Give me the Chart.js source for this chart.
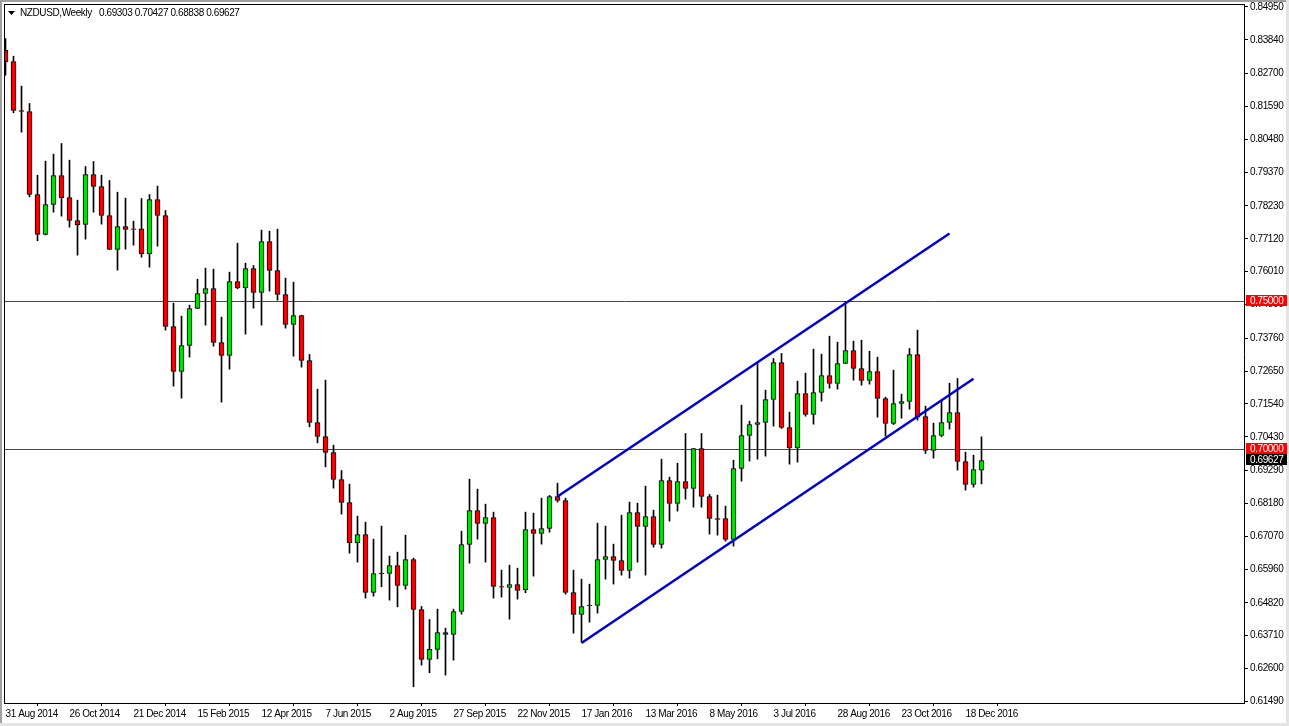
<!DOCTYPE html>
<html>
<head>
<meta charset="utf-8">
<title>NZDUSD Weekly</title>
<script src="https://cdn.jsdelivr.net/npm/chart.js@4"></script>
<style>
  html, body { margin: 0; padding: 0; background: #fff; }
  canvas { display: block; }
</style>
</head>
<body>
<canvas id="grafico" width="1289" height="726"></canvas>
<script>
// velas semanales, de 31 Aug 2014 a 18 Dec 2016
const opens = [
  .83491,.83108,.81453,.81419,.78615,.77264,.78278,.79257,.78514,.77737,
  .77602,.79291,.78886,.77906,.76758,.77534,.77456,.77456,.76611,.78447,
  .77906,.74156,.72636,.73515,.74764,.75271,.75440,.73616,.73177,.75677,
  .75463,.76116,.75305,.77028,.76048,.75237,.74224,.74528,.73007,.70913,
  .70440,.69899,.68987,.68210,.66848,.67129,.65170,.65823,.65812,.66082,
  .65407,.66285,.64596,.62907,.63245,.63819,.63751,.64528,.66792,.67940,
  .67501,.67704,.65373,.65339,.65440,.65260,.67298,.67163,.67332,.68413,
  .68278,.65170,.64427,.64742,.64731,.66285,.66386,.66251,.65913,.67873,
  .67400,.67737,.66792,.68954,.68177,.68920,.68683,.70034,.68413,.67670,
  .67670,.66961,.69359,.70474,.70845,.70913,.71690,.72940,.70744,.70057,
  .71892,.71183,.71926,.72500,.72230,.72906,.73345,.72737,.72332,.72636,
  .71723,.70879,.71555,.71622,.73210,.71115,.69967,.70474,.70913,.71251,
  .69595,.68818,.69303
];
const highs = [
  .83885,.83288,.82275,.81689,.79268,.79741,.79978,.80338,.79775,.78424,
  .79561,.79730,.79268,.79088,.78694,.78492,.77715,.78480,.78615,.78897,
  .78075,.74945,.74506,.74877,.75755,.76127,.76093,.74472,.75992,.76971,
  .76296,.76217,.77411,.77377,.77444,.75789,.75654,.74539,.73210,.72039,
  .72343,.70147,.69291,.68830,.67749,.67546,.66972,.67411,.66398,.66533,
  .67107,.66330,.64697,.64258,.64607,.63965,.64607,.67242,.68999,.68661,
  .68154,.67884,.65925,.66093,.65992,.67884,.67850,.68357,.68447,.68863,
  .68357,.65925,.65621,.65452,.67512,.67411,.66803,.67782,.68222,.68188,
  .68762,.67951,.69674,.69066,.69539,.70541,.70034,.70541,.68481,.68458,
  .68087,.69640,.71498,.70958,.72906,.72005,.73075,.73244,.71262,.72309,
  .72579,.73390,.73221,.73829,.73626,.75000,.73660,.73694,.73322,.73120,
  .71769,.72681,.71870,.73412,.74032,.71465,.70890,.71667,.72241,.72399,
  .69911,.69809,.70427
];
const lows = [
  .82646,.81374,.80721,.78537,.77050,.77250,.78019,.77884,.77512,.76566,
  .77107,.78019,.77613,.76758,.76059,.76769,.76904,.76499,.76161,.76870,
  .74033,.72141,.71736,.73121,.74764,.74201,.73492,.71600,.72715,.75429,
  .73897,.74776,.74201,.75350,.75046,.74100,.73154,.72783,.70766,.70226,
  .69415,.68695,.67816,.66499,.66195,.64979,.65046,.65362,.64911,.64686,
  .65283,.61984,.62715,.62457,.62929,.62378,.62884,.64438,.66161,.66972,
  .66195,.64979,.65013,.64269,.64945,.65159,.65722,.66803,.67208,.68222,
  .65114,.63796,.63492,.64168,.64472,.65621,.65452,.65756,.65654,.66195,
  .65756,.66702,.66668,.67580,.67918,.68323,.68053,.68053,.67141,.67107,
  .66904,.66735,.68931,.69607,.69674,.69776,.70789,.70710,.69505,.69573,
  .71127,.70856,.71633,.72073,.72039,.72906,.72343,.72174,.72208,.71093,
  .70451,.70845,.71059,.71363,.70992,.69866,.69708,.70429,.70688,.69303,
  .68627,.68728,.68838
];
const closes = [
  .83097,.81453,.81419,.78615,.77264,.78278,.79257,.78503,.77737,.77591,
  .79291,.78886,.77906,.76758,.77534,.77433,.77433,.76611,.78447,.77906,
  .74156,.72636,.73515,.74764,.75271,.75440,.73616,.73177,.75677,.75463,
  .76116,.75305,.77028,.76048,.75237,.74224,.74528,.73008,.70913,.70440,
  .69899,.68987,.68210,.66848,.67129,.65170,.65812,.65801,.66082,.65407,
  .66285,.64596,.62907,.63245,.63819,.63751,.64528,.66792,.67940,.67501,
  .67704,.65373,.65350,.65440,.65238,.67298,.67163,.67332,.68413,.68278,
  .65170,.64427,.64697,.64720,.66285,.66386,.66251,.65913,.67873,.67400,
  .67737,.66792,.68954,.68177,.68920,.68683,.70034,.68413,.67670,.67636,
  .66961,.69359,.70474,.70845,.70913,.71690,.72940,.70744,.70057,.71892,
  .71183,.71926,.72500,.72230,.72906,.73345,.72737,.72332,.72636,.71723,
  .70879,.71555,.71622,.73210,.71093,.69967,.70474,.70913,.71251,.69595,
  .68818,.69325,.69627
];

const etiquetasX = ['31 Aug 2014','26 Oct 2014','21 Dec 2014','15 Feb 2015','12 Apr 2015','7 Jun 2015','2 Aug 2015','27 Sep 2015','22 Nov 2015','17 Jan 2016','13 Mar 2016','8 May 2016','3 Jul 2016','28 Aug 2016','23 Oct 2016','18 Dec 2016'];
const semanasPorEtiqueta = 8;
const ticksY = [.8495,.8384,.827,.8159,.8048,.7937,.7823,.7712,.7601,.749,.7376,.7265,.7154,.7043,.6929,.6818,.6707,.6596,.6482,.6371,.626,.6149];

const nivelesHorizontales = [0.75, 0.70];
// canal: [semana inicial, precio inicial, semana final, precio final]
const lineaSuperior = [69, 0.68414, 118, 0.77300];
const lineaInferior = [72, 0.63465, 121, 0.72392];

const simbolo = 'NZDUSD,Weekly';
const VERDE = '#00e000', ROJO = '#f40000', AZUL = '#0000d8';
const familia = '"Liberation Sans"';
const fuente = '10px ' + familia;
const espaciado = '-0.4px'; // la fuente del original es mas estrecha

const ultima = opens.length - 1;
const xMin = -0.0625, xMax = 154.8125;

function segmento(l) { return [{x: l[0], y: l[1]}, {x: l[2], y: l[3]}]; }

// marco de la ventana, cabecera y etiquetas de precio
const adornos = {
  id: 'adornos',
  beforeDraw(chart) {
    const ctx = chart.ctx;
    ctx.fillStyle = '#fff';
    ctx.fillRect(0, 0, chart.width, chart.height);
    // el canvas se reinicia al redimensionar, por eso se pone aqui
    ctx.letterSpacing = espaciado;
  },
  afterDraw(chart) {
    const ctx = chart.ctx, y = chart.scales.y, area = chart.chartArea;
    ctx.save();
    // bordes
    ctx.fillStyle = '#000';
    ctx.fillRect(area.left - 1, area.top - 1, area.right - area.left + 2, 1);
    ctx.fillRect(area.left - 1, area.top - 1, 1, area.bottom - area.top + 2);
    ctx.fillStyle = '#a0a0a0';
    ctx.fillRect(0, 0, 2, chart.height);
    ctx.fillRect(0, 0, chart.width, 2);
    ctx.fillStyle = '#e4e4e4';
    ctx.fillRect(0, chart.height - 3, chart.width, 3);
    ctx.fillRect(chart.width - 3, 0, 3, chart.height);

    // cabecera
    ctx.fillStyle = '#000';
    ctx.beginPath();
    ctx.moveTo(8, 11); ctx.lineTo(15, 11); ctx.lineTo(11.5, 15); ctx.closePath();
    ctx.fill();
    ctx.font = fuente;
    ctx.textBaseline = 'alphabetic';
    ctx.textAlign = 'left';
    ctx.fillText(simbolo, 20, 16);
    ctx.fillText([opens[ultima], highs[ultima], lows[ultima], closes[ultima]].map(v => v.toFixed(5)).join(' '), 99, 16);

    // etiquetas de precio
    function etiqueta(valor, fondo) {
      const py = Math.floor(y.getPixelForValue(valor));
      ctx.fillStyle = fondo;
      ctx.fillRect(1246, py - 6, 41, 11);
      ctx.fillStyle = '#fff';
      ctx.textBaseline = 'middle';
      ctx.fillText(valor.toFixed(5), 1250, py);
    }
    nivelesHorizontales.forEach(n => etiqueta(n, '#ff0000'));
    etiqueta(closes[ultima], '#000');
    ctx.restore();
  }
};

new Chart(document.getElementById('grafico').getContext('2d'), {
  data: {
    datasets: [
      ...nivelesHorizontales.map(n => ({
        type: 'line',
        data: [{x: xMin, y: n}, {x: xMax, y: n}],
        borderColor: ROJO,
        borderWidth: 1,
        pointRadius: 0,
        order: 5
      })),
      {
        type: 'bar',
        data: highs.map((h, i) => ({x: i, y: [lows[i], h]})),
        backgroundColor: '#000',
        borderWidth: 0,
        barThickness: 1,
        order: 4
      },
      {
        type: 'bar',
        data: opens.map((o, i) => ({x: i, y: [o, closes[i]]})),
        backgroundColor: opens.map((o, i) => closes[i] >= o ? VERDE : ROJO),
        borderColor: '#000',
        borderWidth: 1,
        borderSkipped: false,
        barThickness: 5,
        order: 3
      },
      {
        type: 'line',
        data: segmento(lineaSuperior),
        borderColor: AZUL,
        borderWidth: 2.5,
        pointRadius: 0,
        order: 1
      },
      {
        type: 'line',
        data: segmento(lineaInferior),
        borderColor: AZUL,
        borderWidth: 2.5,
        pointRadius: 0,
        order: 1
      }
    ]
  },
  options: {
    responsive: false,
    animation: false,
    devicePixelRatio: 1,
    grouped: false,
    layout: { padding: { left: 5, top: 5, right: 0, bottom: 0 } },
    plugins: { legend: { display: false }, title: { display: false }, tooltip: { enabled: false } },
    scales: {
      x: {
        type: 'linear',
        offset: false,
        min: xMin,
        max: xMax,
        afterFit(scale) {
          scale.height = 23;
          scale.paddingLeft = 0;
          scale.paddingRight = 0;
        },
        afterBuildTicks(scale) {
          scale.ticks = etiquetasX.map((_, k) => ({value: k * semanasPorEtiqueta}));
        },
        border: { color: '#000', width: 1 },
        grid: { drawOnChartArea: false, drawTicks: true, color: '#000', tickLength: 3 },
        ticks: {
          autoSkip: false,
          maxRotation: 0,
          align: 'start',
          padding: 2,
          color: '#000',
          font: { family: familia, size: 10 },
          callback(value) { return etiquetasX[value / semanasPorEtiqueta]; }
        }
      },
      y: {
        type: 'linear',
        position: 'right',
        min: 0.61436,
        max: 0.85017,
        afterFit(scale) {
          scale.width = 45;
          scale.paddingTop = 0;
          scale.paddingBottom = 0;
        },
        afterBuildTicks(scale) {
          scale.ticks = ticksY.map(v => ({value: v}));
        },
        border: { color: '#000', width: 1 },
        grid: { drawOnChartArea: false, drawTicks: true, color: '#000', tickLength: 4 },
        ticks: {
          autoSkip: false,
          padding: 2,
          color: '#000',
          font: { family: familia, size: 10 },
          callback(value) { return value.toFixed(5); }
        }
      }
    }
  },
  plugins: [adornos]
});
</script>
</body>
</html>
